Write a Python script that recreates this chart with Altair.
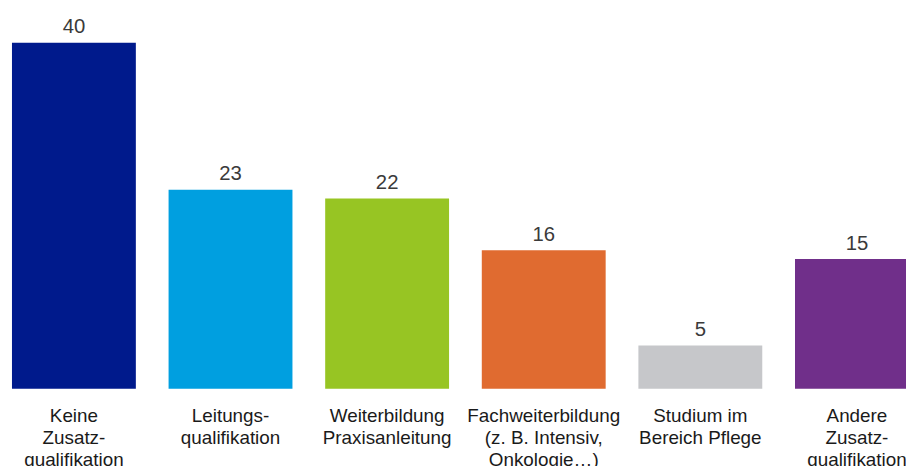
import altair as alt
import pandas as pd

categories = [
    "Keine|Zusatz-|qualifikation",
    "Leitungs-|qualifikation",
    "Weiterbildung|Praxisanleitung",
    "Fachweiterbildung|(z. B. Intensiv,|Onkologie…)",
    "Studium im|Bereich Pflege",
    "Andere|Zusatz-|qualifikation",
]
values = [40, 23, 22, 16, 5, 15]
colors = ["#001A8C", "#009FE0", "#97C523", "#E06B30", "#C6C7CA", "#702F8A"]

df = pd.DataFrame({"cat": categories, "value": values, "color": colors})

x = alt.X(
    "cat:N",
    sort=None,
    scale=alt.Scale(range=[0, 919], paddingInner=0.209, paddingOuter=0.0127),
    axis=alt.Axis(
        title=None,
        domain=False,
        ticks=False,
        grid=False,
        labelAngle=0,
        labelExpr="split(datum.label, '|')",
        labelFont="Liberation Sans",
        labelFontSize=19,
        labelColor="#1a1a1a",
        labelLineHeight=22.5,
        labelBaseline="alphabetic",
        labelPadding=33,
        labelAlign="center",
        labelLimit=300,
    ),
)
y = alt.Y("value:Q", scale=alt.Scale(domain=[0, 40]), axis=None)

bars = alt.Chart(df).mark_bar().encode(
    x=x, y=y, color=alt.Color("color:N", scale=None)
)
texts = alt.Chart(df).mark_text(
    baseline="alphabetic", dy=-9.5, font="Liberation Sans", fontSize=20.5, color="#3a3a3a"
).encode(x=x, y=y, text="value:Q")

chart = (
    alt.layer(bars, texts)
    .properties(
        width=904,
        height=349,
        autosize=alt.AutoSizeParams(type="none"),
        padding={"left": 2, "top": 33, "right": 0, "bottom": 76},
    )
    .configure_view(stroke=None)
)

chart.save("out.html", embed_options={"renderer": "svg", "actions": False})
